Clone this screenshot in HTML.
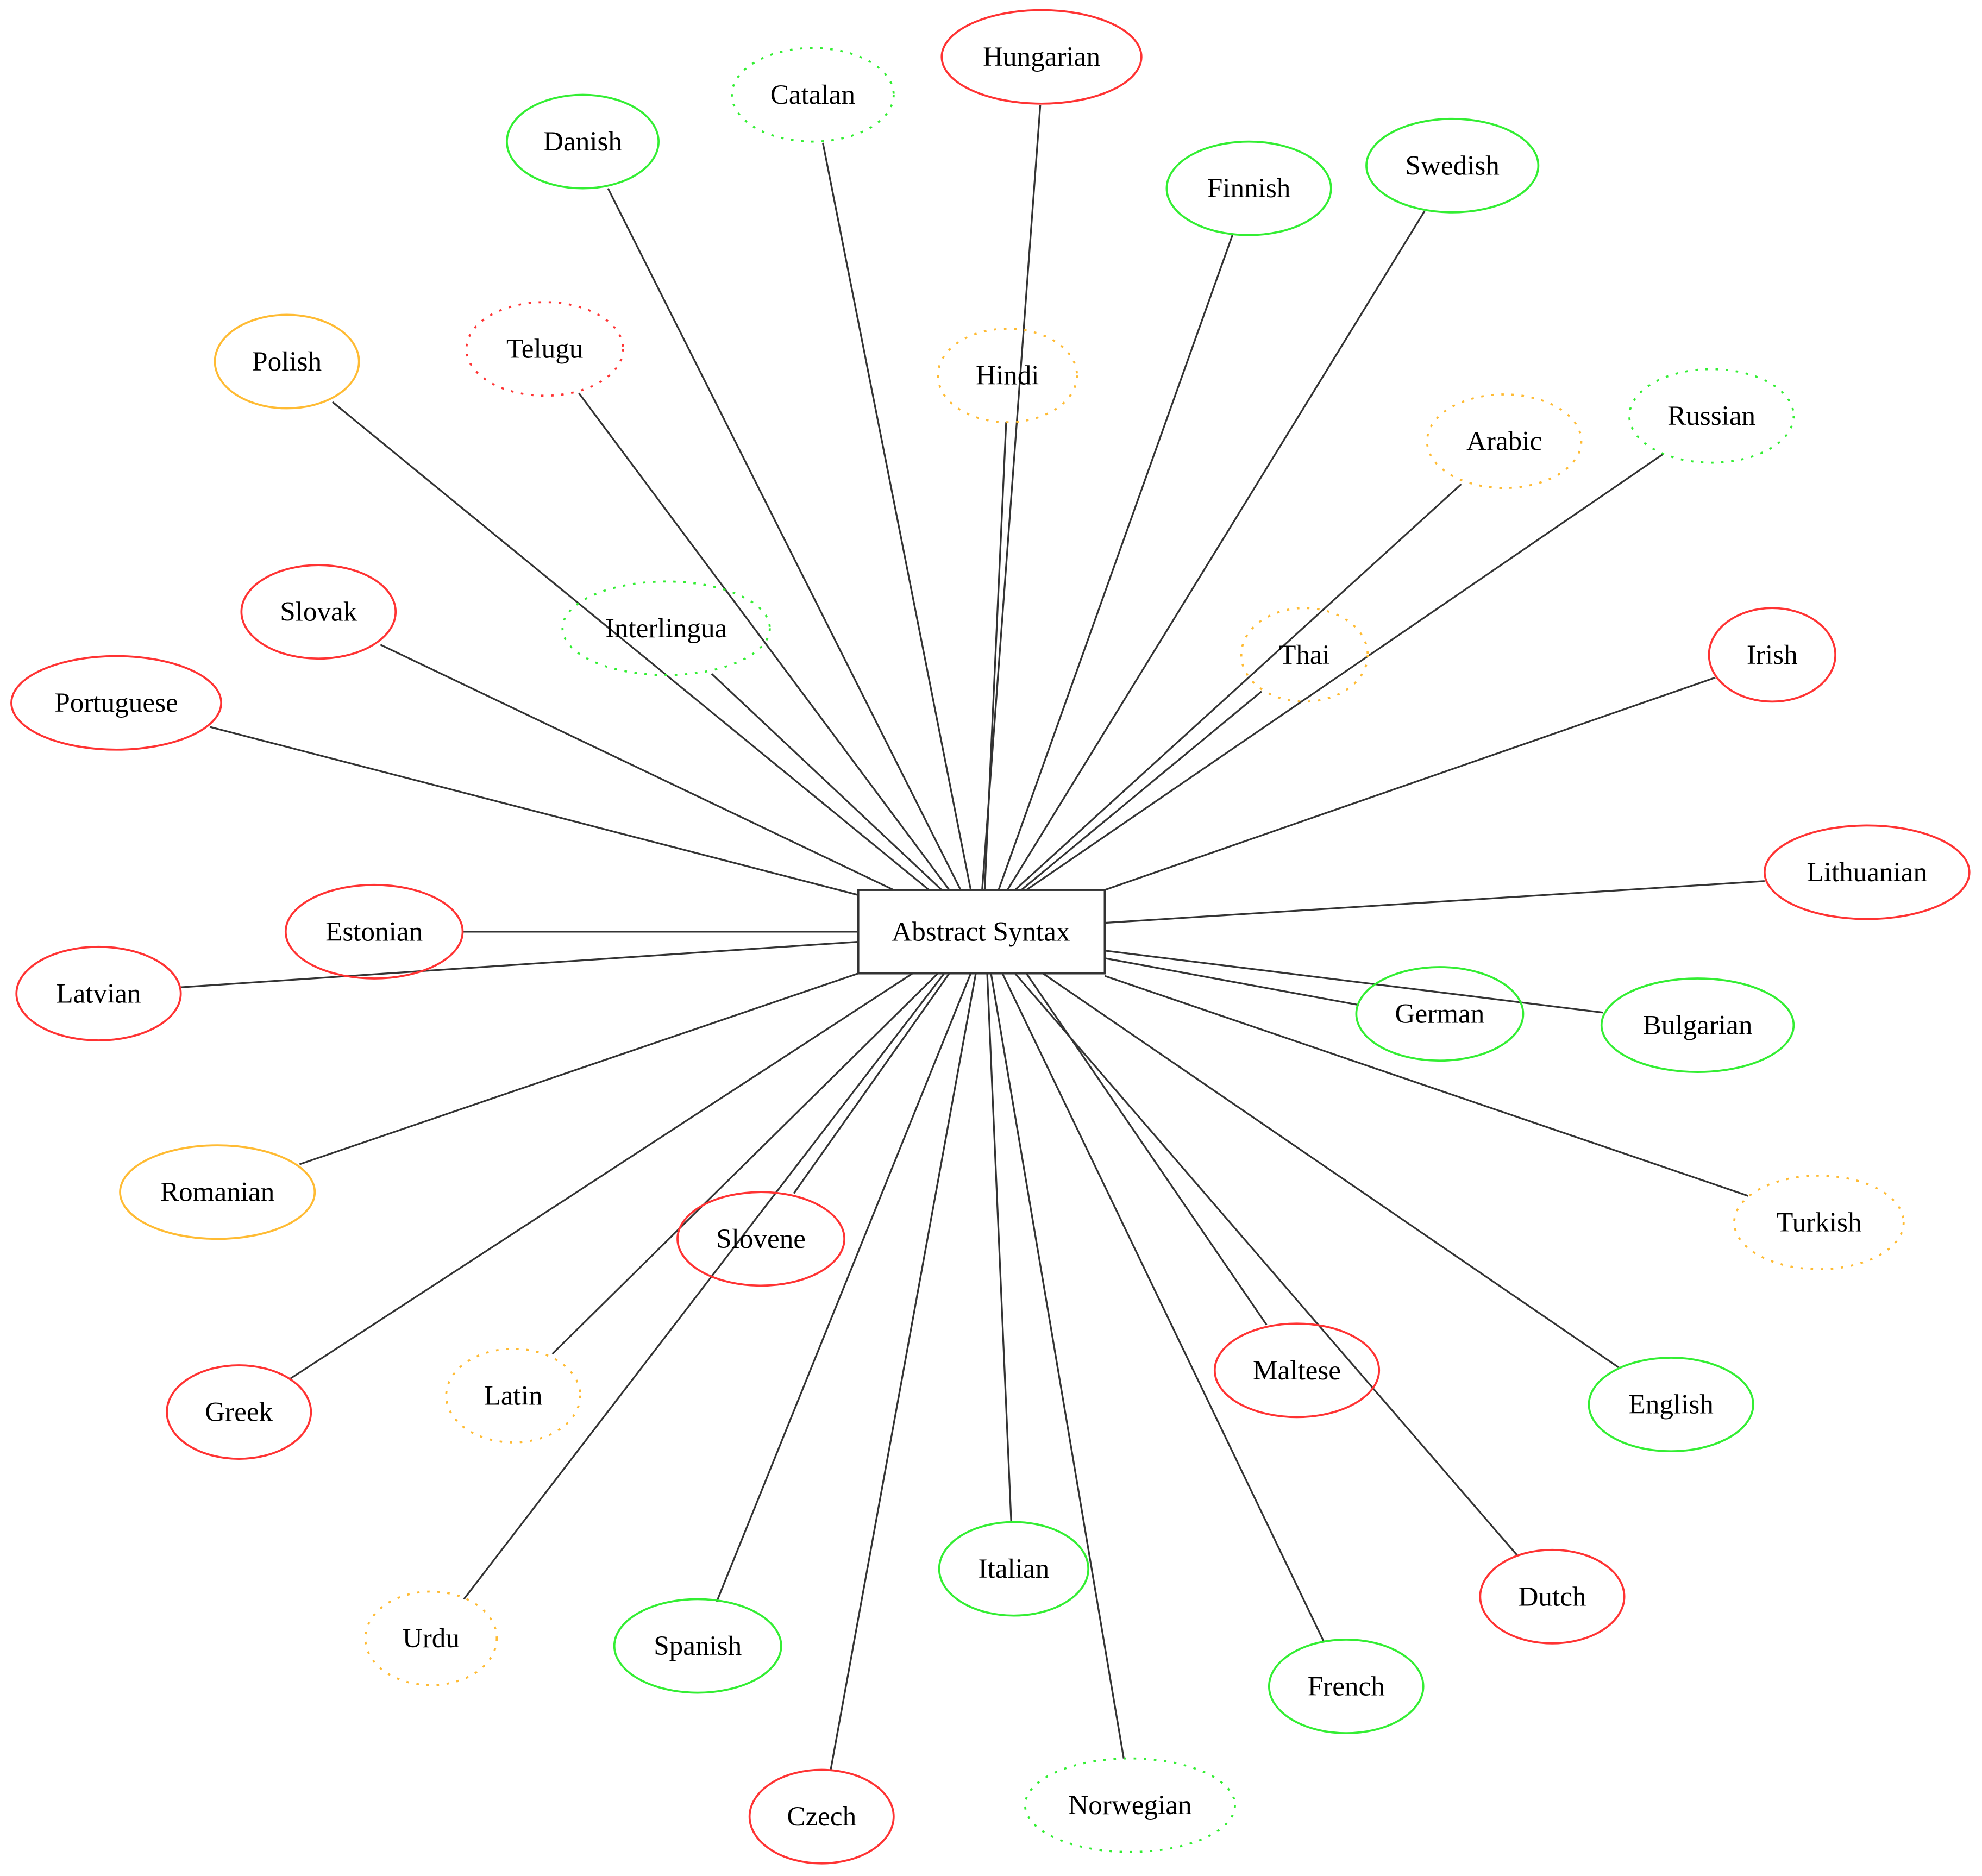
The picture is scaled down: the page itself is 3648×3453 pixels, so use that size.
<!DOCTYPE html>
<html><head><meta charset="utf-8"><style>
html,body{margin:0;padding:0;background:#fff;}
svg{display:block;}
text{font-family:"Liberation Serif",serif;font-size:22px;fill:#000;text-anchor:middle;dominant-baseline:central;}
</style></head><body>
<svg width="3648" height="3453" viewBox="0 0 1568 1484" preserveAspectRatio="none" xmlns="http://www.w3.org/2000/svg">
<g stroke="#333" stroke-width="1.4" fill="none">
<line x1="823" y1="83" x2="777" y2="704"/>
<line x1="651" y1="113" x2="768" y2="704"/>
<line x1="481" y1="149" x2="760" y2="704"/>
<line x1="975" y1="186" x2="790" y2="704"/>
<line x1="1127" y1="167" x2="797" y2="704"/>
<line x1="263" y1="318" x2="735" y2="704"/>
<line x1="458" y1="311" x2="751" y2="704"/>
<line x1="796" y1="334" x2="779" y2="704"/>
<line x1="1156" y1="383" x2="803" y2="704"/>
<line x1="1316" y1="359" x2="812" y2="704"/>
<line x1="301" y1="510" x2="707" y2="704"/>
<line x1="563" y1="533" x2="745" y2="704"/>
<line x1="998" y1="547" x2="808" y2="704"/>
<line x1="1357" y1="536" x2="874" y2="704"/>
<line x1="166" y1="575" x2="679" y2="708"/>
<line x1="1396" y1="697" x2="874" y2="730"/>
<line x1="366" y1="737" x2="679" y2="737"/>
<line x1="143" y1="781" x2="679" y2="745"/>
<line x1="1075" y1="795" x2="874" y2="758"/>
<line x1="1268" y1="801" x2="874" y2="752"/>
<line x1="237" y1="921" x2="679" y2="770"/>
<line x1="1383" y1="946" x2="874" y2="772"/>
<line x1="628" y1="944" x2="751" y2="770"/>
<line x1="1002" y1="1048" x2="812" y2="770"/>
<line x1="229" y1="1091" x2="722" y2="770"/>
<line x1="437" y1="1071" x2="742" y2="770"/>
<line x1="1281" y1="1082" x2="825" y2="770"/>
<line x1="800" y1="1204" x2="781" y2="770"/>
<line x1="1200" y1="1230" x2="803" y2="770"/>
<line x1="367" y1="1265" x2="747" y2="770"/>
<line x1="567" y1="1267" x2="768" y2="770"/>
<line x1="1047" y1="1298" x2="793" y2="770"/>
<line x1="657" y1="1401" x2="772" y2="770"/>
<line x1="889" y1="1391" x2="784" y2="770"/>
</g>
<rect x="679" y="704" width="195" height="66" fill="#fff" stroke="#333" stroke-width="1.6"/>
<text x="776" y="737">Abstract Syntax</text>
<g fill="none" stroke-width="1.6">
<ellipse cx="824" cy="45" rx="79" ry="37" stroke="#f33"/>
<ellipse cx="643" cy="75" rx="64" ry="37" stroke="#3e3" stroke-dasharray="2,6"/>
<ellipse cx="461" cy="112" rx="60" ry="37" stroke="#3e3"/>
<ellipse cx="988" cy="149" rx="65" ry="37" stroke="#3e3"/>
<ellipse cx="1149" cy="131" rx="68" ry="37" stroke="#3e3"/>
<ellipse cx="227" cy="286" rx="57" ry="37" stroke="#fb3"/>
<ellipse cx="431" cy="276" rx="62" ry="37" stroke="#f33" stroke-dasharray="2,6"/>
<ellipse cx="797" cy="297" rx="55" ry="37" stroke="#fb3" stroke-dasharray="2,6"/>
<ellipse cx="1190" cy="349" rx="61" ry="37" stroke="#fb3" stroke-dasharray="2,6"/>
<ellipse cx="1354" cy="329" rx="65" ry="37" stroke="#3e3" stroke-dasharray="2,6"/>
<ellipse cx="252" cy="484" rx="61" ry="37" stroke="#f33"/>
<ellipse cx="527" cy="497" rx="82" ry="37" stroke="#3e3" stroke-dasharray="2,6"/>
<ellipse cx="1032" cy="518" rx="50" ry="37" stroke="#fb3" stroke-dasharray="2,6"/>
<ellipse cx="1402" cy="518" rx="50" ry="37" stroke="#f33"/>
<ellipse cx="92" cy="556" rx="83" ry="37" stroke="#f33"/>
<ellipse cx="1477" cy="690" rx="81" ry="37" stroke="#f33"/>
<ellipse cx="296" cy="737" rx="70" ry="37" stroke="#f33"/>
<ellipse cx="78" cy="786" rx="65" ry="37" stroke="#f33"/>
<ellipse cx="1139" cy="802" rx="66" ry="37" stroke="#3e3"/>
<ellipse cx="1343" cy="811" rx="76" ry="37" stroke="#3e3"/>
<ellipse cx="172" cy="943" rx="77" ry="37" stroke="#fb3"/>
<ellipse cx="1439" cy="967" rx="67" ry="37" stroke="#fb3" stroke-dasharray="2,6"/>
<ellipse cx="602" cy="980" rx="66" ry="37" stroke="#f33"/>
<ellipse cx="1026" cy="1084" rx="65" ry="37" stroke="#f33"/>
<ellipse cx="189" cy="1117" rx="57" ry="37" stroke="#f33"/>
<ellipse cx="406" cy="1104" rx="53" ry="37" stroke="#fb3" stroke-dasharray="2,6"/>
<ellipse cx="1322" cy="1111" rx="65" ry="37" stroke="#3e3"/>
<ellipse cx="802" cy="1241" rx="59" ry="37" stroke="#3e3"/>
<ellipse cx="1228" cy="1263" rx="57" ry="37" stroke="#f33"/>
<ellipse cx="341" cy="1296" rx="52" ry="37" stroke="#fb3" stroke-dasharray="2,6"/>
<ellipse cx="552" cy="1302" rx="66" ry="37" stroke="#3e3"/>
<ellipse cx="1065" cy="1334" rx="61" ry="37" stroke="#3e3"/>
<ellipse cx="650" cy="1437" rx="57" ry="37" stroke="#f33"/>
<ellipse cx="894" cy="1428" rx="83" ry="37" stroke="#3e3" stroke-dasharray="2,6"/>
</g>
<text x="824" y="45">Hungarian</text>
<text x="643" y="75">Catalan</text>
<text x="461" y="112">Danish</text>
<text x="988" y="149">Finnish</text>
<text x="1149" y="131">Swedish</text>
<text x="227" y="286">Polish</text>
<text x="431" y="276">Telugu</text>
<text x="797" y="297">Hindi</text>
<text x="1190" y="349">Arabic</text>
<text x="1354" y="329">Russian</text>
<text x="252" y="484">Slovak</text>
<text x="527" y="497">Interlingua</text>
<text x="1032" y="518">Thai</text>
<text x="1402" y="518">Irish</text>
<text x="92" y="556">Portuguese</text>
<text x="1477" y="690">Lithuanian</text>
<text x="296" y="737">Estonian</text>
<text x="78" y="786">Latvian</text>
<text x="1139" y="802">German</text>
<text x="1343" y="811">Bulgarian</text>
<text x="172" y="943">Romanian</text>
<text x="1439" y="967">Turkish</text>
<text x="602" y="980">Slovene</text>
<text x="1026" y="1084">Maltese</text>
<text x="189" y="1117">Greek</text>
<text x="406" y="1104">Latin</text>
<text x="1322" y="1111">English</text>
<text x="802" y="1241">Italian</text>
<text x="1228" y="1263">Dutch</text>
<text x="341" y="1296">Urdu</text>
<text x="552" y="1302">Spanish</text>
<text x="1065" y="1334">French</text>
<text x="650" y="1437">Czech</text>
<text x="894" y="1428">Norwegian</text>
</svg>
</body></html>
